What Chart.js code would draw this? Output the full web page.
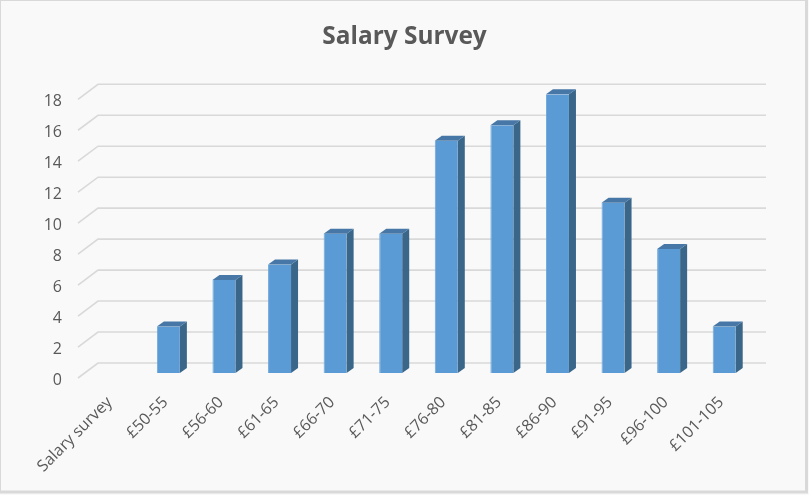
<!DOCTYPE html>
<html>
<head>
<meta charset="utf-8">
<title>Salary Survey</title>
<script src="https://cdn.jsdelivr.net/npm/chart.js@4"></script>
<style>
  html, body { margin: 0; padding: 0; background: #fff; }
  #wrap { position: relative; width: 809px; height: 495px; }
</style>
</head>
<body>
<div id="wrap"><canvas id="chart" width="809" height="495"></canvas></div>
<script>
var TITLE = 'Salary Survey';
var CATEGORIES = ['Salary survey', '£50-55', '£56-60', '£61-65', '£66-70', '£71-75',
  '£76-80', '£81-85', '£86-90', '£91-95', '£96-100', '£101-105'];
var RESPONSES = [null, 3, 6, 7, 9, 9, 15, 16, 18, 11, 8, 3];

var FONT = '"Open Sans", "Noto Sans", sans-serif';
var INK = {
  panel: '#f9f9f9',
  frame: '#d9d9d9',
  grid: '#d9d9d9',
  text: '#595959',
  front: '#5b9bd5',
  edge: '#6fa8dc',
  side: '#3a6689',
  top: '#4777a6'
};

/* fake 3D: floor depth relative to the bar base, and bar depth */
var BACK = { x: 13, y: -10 };
var FRONT = { x: -7, y: 5 };
var BAR_DEPTH = { x: 7, y: -5 };
var GRID_RIGHT = 766;

var fake3d = {
  id: 'fake3d',
  beforeDraw: function (chart) {
    var ctx = chart.ctx;
    ctx.save();
    ctx.fillStyle = INK.panel;
    ctx.fillRect(0, 0, chart.width, chart.height);
    ctx.strokeStyle = INK.frame;
    ctx.lineWidth = 3;
    ctx.strokeRect(-0.5, -0.5, chart.width - 2, chart.height - 2.5);
    ctx.restore();
  },
  beforeDatasetsDraw: function (chart) {
    var ctx = chart.ctx, y = chart.scales.y, left = chart.chartArea.left;
    ctx.save();
    ctx.strokeStyle = INK.grid;
    ctx.lineWidth = 1.6;
    y.ticks.forEach(function (t) {
      var py = y.getPixelForValue(t.value);
      ctx.beginPath();
      ctx.moveTo(left + FRONT.x, py + FRONT.y);
      ctx.lineTo(left + BACK.x, py + BACK.y);
      ctx.lineTo(GRID_RIGHT, py + BACK.y);
      ctx.stroke();
    });
    ctx.restore();
  },
  afterDatasetsDraw: function (chart) {
    var ctx = chart.ctx, dx = BAR_DEPTH.x, dy = BAR_DEPTH.y;
    ctx.save();
    chart.getDatasetMeta(0).data.forEach(function (bar, i) {
      if (RESPONSES[i] == null) return;
      var l = bar.x - bar.width / 2, r = bar.x + bar.width / 2, t = bar.y, b = bar.base;
      ctx.fillStyle = INK.side;
      ctx.beginPath();
      ctx.moveTo(r, t); ctx.lineTo(r + dx, t + dy); ctx.lineTo(r + dx, b + dy); ctx.lineTo(r, b);
      ctx.closePath(); ctx.fill();
      ctx.fillStyle = INK.top;
      ctx.beginPath();
      ctx.moveTo(l, t); ctx.lineTo(l + dx, t + dy); ctx.lineTo(r + dx, t + dy); ctx.lineTo(r, t);
      ctx.closePath(); ctx.fill();
    });
    ctx.restore();
  }
};

new Chart(document.getElementById('chart').getContext('2d'), {
  type: 'bar',
  data: {
    labels: CATEGORIES,
    datasets: [{
      label: 'Salary survey',
      data: RESPONSES,
      backgroundColor: INK.front,
      borderColor: INK.edge,
      borderWidth: { left: 1, bottom: 1 },
      categoryPercentage: 1,
      barPercentage: 0.414
    }]
  },
  options: {
    responsive: false,
    animation: false,
    layout: { padding: { top: 15, left: 0, right: 0, bottom: 0 } },
    plugins: {
      legend: { display: false },
      tooltip: { enabled: false },
      title: {
        display: true,
        text: TITLE,
        color: INK.text,
        font: { family: FONT, size: 24.4, weight: '700' },
        padding: { top: 7, bottom: 43 }
      }
    },
    scales: {
      x: {
        grid: { display: false, drawTicks: false },
        border: { display: false },
        ticks: {
          color: INK.text, font: { family: FONT, size: 16 },
          minRotation: 45, maxRotation: 45, autoSkip: false, padding: 20, labelOffset: -3
        },
        afterFit: function (scale) {
          scale.height = 122;
          scale.paddingLeft = 0;
          scale.paddingRight = 0;
        }
      },
      y: {
        min: 0, max: 18,
        grid: { display: false, drawTicks: false },
        border: { display: false },
        ticks: {
          stepSize: 2, color: INK.text, font: { family: FONT, size: 16 },
          padding: 23, labelOffset: 7
        },
        afterFit: function (scale) {
          scale.width = 85;
          scale.paddingTop = 0;
          scale.paddingBottom = 0;
        }
      },
      // empty axis, only reserves the blank strip right of the bars so the title stays centred
      spacer: {
        position: 'right',
        grid: { display: false, drawTicks: false },
        border: { display: false },
        ticks: { display: false },
        afterFit: function (scale) {
          scale.width = 57;
          scale.paddingTop = 0;
          scale.paddingBottom = 0;
        }
      }
    }
  },
  plugins: [fake3d]
});
</script>
</body>
</html>
